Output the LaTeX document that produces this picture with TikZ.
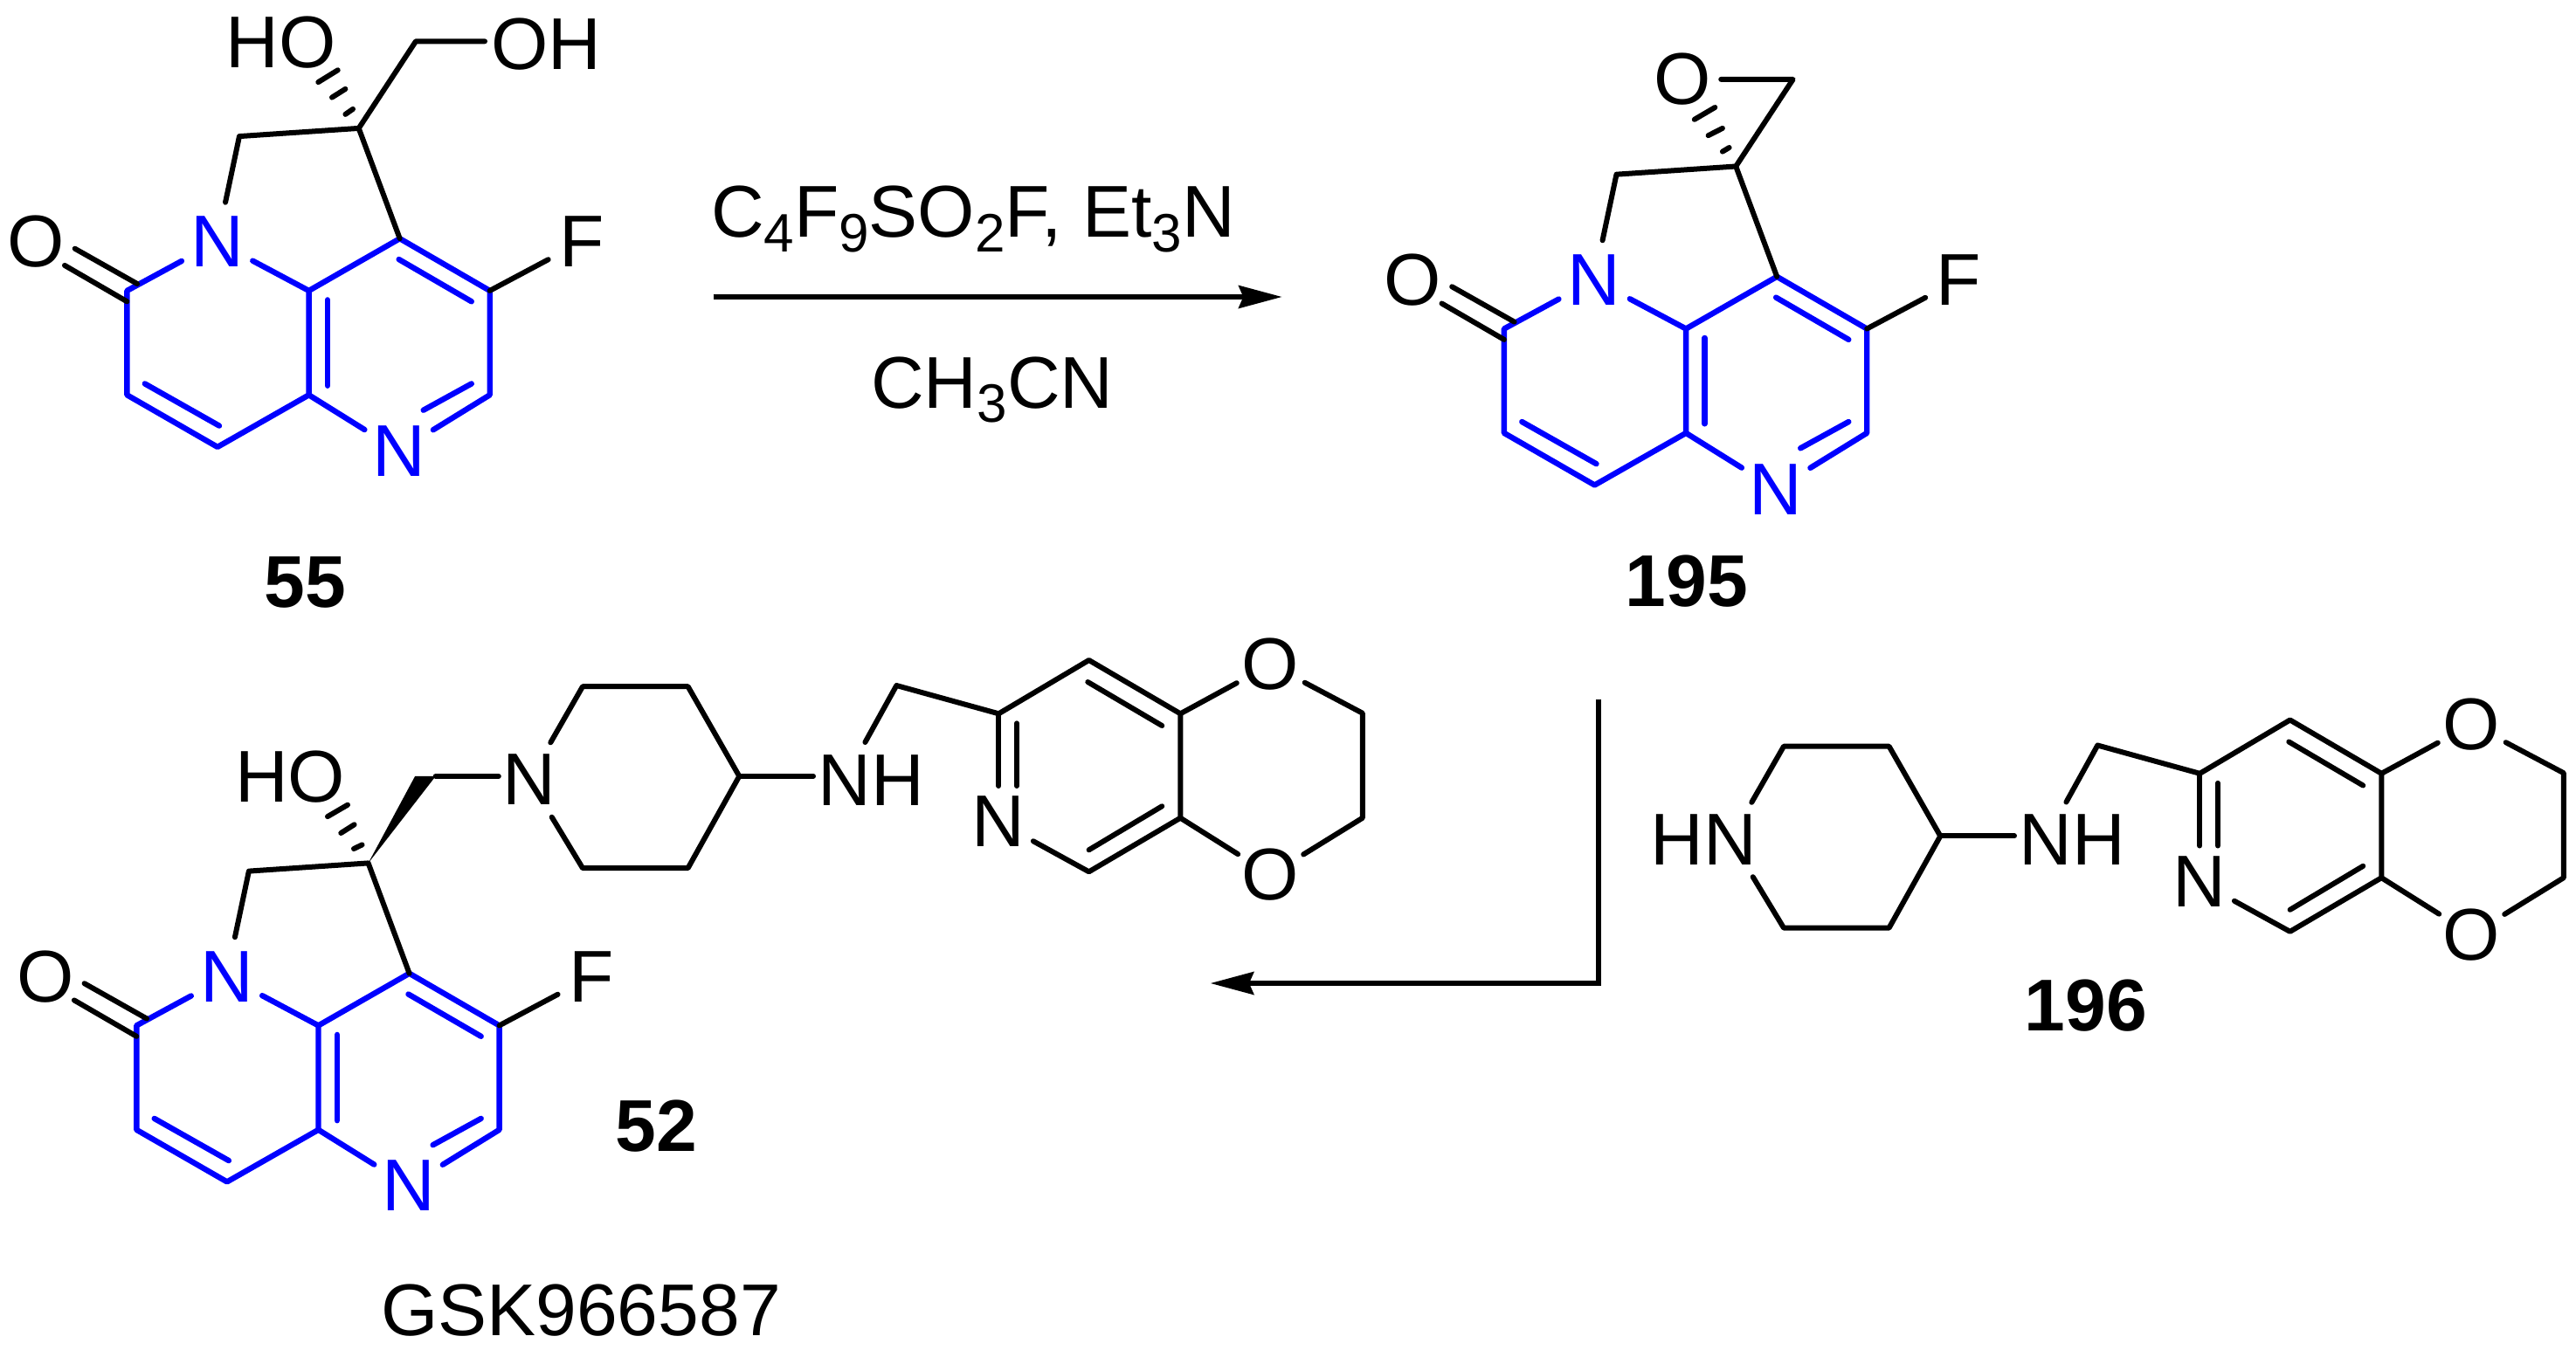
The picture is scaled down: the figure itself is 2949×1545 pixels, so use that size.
\documentclass[tikz,border=0pt]{standalone}
\usepackage{fontspec}
\setmainfont{Liberation Sans}
\usetikzlibrary{arrows.meta}
\newcommand{\atomfont}{\fontsize{84}{92}\selectfont}
\newcommand{\subsc}[1]{\raisebox{-16.6pt}{\fontsize{62}{62}\selectfont #1}}
\definecolor{coreblue}{RGB}{0,0,255}
\tikzset{
  bond/.style={draw=black,line width=6pt,line cap=round,line join=round},
  bbond/.style={draw=coreblue,line width=6.4pt,line cap=round,line join=round},
  txt/.style={inner sep=0pt,font=\atomfont,text=black},
  atom/.style={txt,circle,minimum size=#1},
  atom/.default=92pt,
  blueatom/.style={atom=92pt,text=coreblue},
  pipn/.style={txt,rectangle,minimum width=70pt,minimum height=85pt},
  num/.style={inner sep=0pt,font=\atomfont\bfseries,text=black},
  rxn/.style={draw=black,line width=5.8pt,-{Stealth[length=50pt,width=27pt,inset=6pt,line width=0pt]}},
}
% pyridone core, in the coordinates of compound 55
\newcommand{\pyrcore}[1]{%
  \coordinate (#1a) at (145.4,332.9);
  \coordinate (#1b) at (145.4,452.3);
  \coordinate (#1c) at (249,511.9);
  \coordinate (#1d) at (353.6,452.3);
  \coordinate (#1e) at (353.6,332.9);
  \coordinate (#1f) at (457.7,273.2);
  \coordinate (#1g) at (560.7,332.9);
  \coordinate (#1h) at (560.7,452.3);
  \coordinate (#1i) at (274,156.1);
  \coordinate (#1j) at (410.7,146.9);
  \coordinate (#1ed1) at (375,343.4);
  \coordinate (#1ed2) at (375,441.7);
  \coordinate (#1fg1) at (456.6,297);
  \coordinate (#1fg2) at (539.8,345.3);
  \coordinate (#1hn1) at (484.7,469.7);
  \coordinate (#1hn2) at (539.8,439.4);
  \coordinate (#1bc1) at (165.8,439.4);
  \coordinate (#1bc2) at (251,487.6);
  \coordinate (#1co1) at (85.7,284.7);
  \coordinate (#1co2) at (157.1,325);
  \coordinate (#1co3) at (74,303.9);
  \coordinate (#1co4) at (145.4,345.3);
  \node[blueatom] (#1N1) at (248.5,276.9) {N};
  \node[blueatom] (#1N2) at (456.6,516.5) {N};
  \node[atom=86pt] (#1F) at (665.8,276.9) {F};
  \node[atom=84pt] (#1O) at (40.8,276.9) {O};
  \draw[bbond] (#1N1) -- (#1a) -- (#1b) -- (#1c) -- (#1d) -- (#1e) -- (#1N1);
  \draw[bbond] (#1e) -- (#1f) -- (#1g) -- (#1h) -- (#1N2);
  \draw[bbond] (#1d) -- (#1N2);
  \draw[bbond] (#1ed1) -- (#1ed2);
  \draw[bbond] (#1fg1) -- (#1fg2);
  \draw[bbond] (#1hn1) -- (#1hn2);
  \draw[bbond] (#1bc1) -- (#1bc2);
  \draw[bond] (#1co1) -- (#1co2);
  \draw[bond] (#1co3) -- (#1co4);
  \draw[bond] (#1N1) -- (#1i) -- (#1j) -- (#1f);
  \draw[bond] (#1g) -- (#1F);
}
% piperidine-NH-CH2-pyridodioxine, in the coordinates of compound 52
\newcommand{\aminepart}[2]{%
  \node[pipn] (#1pN) at (605.9,893) {#2};
  \node[txt] (#1NH) at (997.1,893.3) {NH};
  \node[atom] (#1pyN) at (1142.4,941) {N};
  \node[atom=84pt] (#1Ot) at (1454.6,761) {O};
  \node[atom=84pt] (#1Ob) at (1454.6,1001.7) {O};
  \coordinate (#1c2) at (667,786.2);
  \coordinate (#1c3) at (787.6,786.2);
  \coordinate (#1c4) at (846.3,888.9);
  \coordinate (#1c5) at (787.6,994.1);
  \coordinate (#1c6) at (667,994.1);
  \coordinate (#1ne) at (931,888.9);
  \coordinate (#1nt) at (990.4,850);
  \coordinate (#1ch) at (1026.3,785);
  \coordinate (#1p1) at (1143.3,817.3);
  \coordinate (#1p2) at (1246.6,756);
  \coordinate (#1p3) at (1351.3,817.3);
  \coordinate (#1p4) at (1351.3,936.7);
  \coordinate (#1p5) at (1246.6,998.3);
  \coordinate (#1pe) at (1143.3,900);
  \coordinate (#1i1) at (1164,828.3);
  \coordinate (#1i2) at (1164,900);
  \coordinate (#1i3) at (1245.3,781);
  \coordinate (#1i4) at (1330.2,831);
  \coordinate (#1i5) at (1330.2,923.3);
  \coordinate (#1i6) at (1246.6,973.3);
  \coordinate (#1d1) at (1559.8,816.7);
  \coordinate (#1d2) at (1559.8,936.7);
  \draw[bond] (#1pN) -- (#1c2) -- (#1c3) -- (#1c4) -- (#1c5) -- (#1c6) -- (#1pN);
  \draw[bond] (#1c4) -- (#1ne);
  \draw[bond] (#1nt) -- (#1ch) -- (#1p1) -- (#1p2) -- (#1p3) -- (#1p4) -- (#1p5) -- (#1pyN);
  \draw[bond] (#1p1) -- (#1pe);
  \draw[bond] (#1i1) -- (#1i2);
  \draw[bond] (#1i3) -- (#1i4);
  \draw[bond] (#1i5) -- (#1i6);
  \draw[bond] (#1p3) -- (#1Ot) (#1p4) -- (#1Ob);
  \draw[bond] (#1Ot) -- (#1d1) -- (#1d2) -- (#1Ob);
}
\begin{document}
\begin{tikzpicture}[x=1pt,y=-1pt]
\useasboundingbox (0,0) rectangle (2949,1545);

% ---------- 55
\begin{scope}
  \pyrcore{A}
\end{scope}
\node[txt] (AHO) at (321.4,48.2) {HO};
\node[txt] (AOH) at (625.5,50.5) {OH};
\coordinate (Ak) at (476,47.3);
\coordinate (Ake) at (555,47.3);
\draw[bond] (Aj) -- (Ak) -- (Ake);
\draw[bond] (395.4,130.9) -- (404,124.9);
\draw[bond] (380,111.6) -- (395.4,101.9);
\draw[bond] (364.3,94.1) -- (386.7,80.3);
\node[num] (lab55) at (349.5,666.7) {55};

% ---------- 195
\begin{scope}[shift={(1576.5,43.6)}]
  \pyrcore{B}
\end{scope}
\node[atom=84pt] (BOx) at (1926,90.9) {O};
\coordinate (Bk) at (2052.6,90.9);
\draw[bond] (Bj) -- (Bk) -- (BOx);
\draw[bond] (1971.9,173.6) -- (1979.6,169);
\draw[bond] (1955.6,155.2) -- (1971.9,146.9);
\draw[bond] (1939.8,136.8) -- (1963.3,123);
\node[num] (lab195) at (1931,665.8) {195};

% ---------- 52
\begin{scope}[shift={(10.9,841.5)}]
  \pyrcore{C}
\end{scope}
\aminepart{D}{N}
\node[txt] (CHO) at (332.3,889.9) {HO};
\coordinate (Cw) at (475.1,888.9);
\coordinate (Cl) at (498.7,888.9);
\coordinate (Cle) at (570.8,888.9);
\fill[black] (Cj) -- (Cw) -- (Cl) -- cycle;
\draw[bond] (Cl) -- (Cle);
\draw[bond] (405,972) -- (414.5,967.4);
\draw[bond] (390.3,954) -- (405.6,944.3);
\draw[bond] (375,935.1) -- (398,921.7);
\node[num] (lab52) at (751.3,1289.3) {52};
\node[txt,anchor=base] (gsk) at (665,1529.5) {GSK966587};

% ---------- 196
\begin{scope}[shift={(1375,68.5)}]
  \aminepart{E}{\llap{H}N}
\end{scope}
\node[num] (lab196) at (2388,1152) {196};

% ---------- reaction arrows
\node[txt,anchor=base] (reag) at (1114,271.7) {C\subsc{4}F\subsc{9}SO\subsc{2}F, Et\subsc{3}N};
\node[txt,anchor=base] (solv) at (1135.9,467.3) {CH\subsc{3}CN};
\coordinate (r1s) at (816.7,340);
\coordinate (r1e) at (1467.3,340);
\draw[rxn] (r1s) -- (r1e);
\coordinate (r2s) at (1830,800.7);
\coordinate (r2c) at (1830,1126);
\coordinate (r2e) at (1386,1126);
\draw[rxn] (r2s) -- (r2c) -- (r2e);
\end{tikzpicture}
\end{document}
